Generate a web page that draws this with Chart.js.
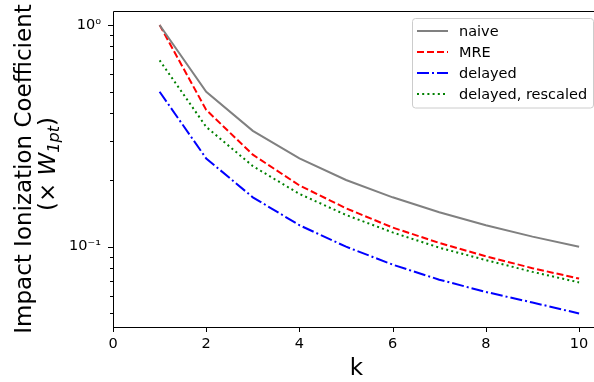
<!DOCTYPE html>
<html>
<head>
<meta charset="utf-8">
<script src="https://cdn.jsdelivr.net/npm/chart.js@4"></script>
<style>
  html, body { margin: 0; padding: 0; background: #fff; }
  canvas { display: block; }
</style>
</head>
<body>
<canvas id="chart" width="594" height="382"></canvas>
<script>
const kValues = [1, 2, 3, 4, 5, 6, 7, 8, 9, 10];
const naive = [1.0, 0.5, 0.333, 0.25, 0.2, 0.167, 0.143, 0.125, 0.111, 0.1];
const mre = [1.0, 0.414, 0.26, 0.189, 0.149, 0.122, 0.104, 0.0905, 0.08, 0.0718];
const delayed = [0.5, 0.25, 0.167, 0.125, 0.1, 0.083, 0.071, 0.0625, 0.056, 0.05];
const delayedRescaled = [0.693, 0.347, 0.231, 0.173, 0.139, 0.116, 0.099, 0.087, 0.077, 0.069];

const xTicks = [0, 2, 4, 6, 8, 10];
const yMajorTicks = [0.1, 1];
const yMinorTicks = [0.05, 0.06, 0.07, 0.08, 0.09, 0.2, 0.3, 0.4, 0.5, 0.6, 0.7, 0.8, 0.9];

const FONT = '"DejaVu Sans", sans-serif';

function toPoints(ys) {
    return kValues.map((k, i) => ({ x: k, y: ys[i] }));
}

function series(label, ys, color, dash) {
    return {
        label: label,
        data: toPoints(ys),
        borderColor: color,
        backgroundColor: color,
        borderWidth: 2,
        borderDash: dash,
        pointRadius: 0,
        tension: 0,
        fill: false
    };
}

// spines, tick marks, axis titles and legend drawn like matplotlib
const decorations = {
    id: 'decorations',
    afterDraw(chart) {
        const ctx = chart.ctx;
        const a = chart.chartArea;
        const xs = chart.scales.x, ys = chart.scales.y;
        ctx.save();
        ctx.strokeStyle = '#000';
        ctx.lineWidth = 1;
        ctx.beginPath();
        ctx.moveTo(a.left + 0.5, a.bottom + 0.5);
        ctx.lineTo(a.left + 0.5, a.top + 0.5);
        ctx.lineTo(a.right, a.top + 0.5);
        ctx.moveTo(a.left, a.bottom + 0.5);
        ctx.lineTo(a.right, a.bottom + 0.5);
        // x ticks
        xTicks.forEach(v => {
            const px = Math.round(xs.getPixelForValue(v)) + 0.5;
            ctx.moveTo(px, a.bottom);
            ctx.lineTo(px, a.bottom + 5);
        });
        // y ticks
        yMajorTicks.forEach(v => {
            const py = Math.round(ys.getPixelForValue(v)) + 0.5;
            ctx.moveTo(a.left, py);
            ctx.lineTo(a.left - 5, py);
        });
        yMinorTicks.forEach(v => {
            const py = Math.round(ys.getPixelForValue(v)) + 0.5;
            ctx.moveTo(a.left, py);
            ctx.lineTo(a.left - 3, py);
        });
        ctx.stroke();

        // axis titles
        ctx.fillStyle = '#000';
        ctx.font = '23px ' + FONT;
        ctx.textAlign = 'center';
        ctx.textBaseline = 'alphabetic';
        ctx.fillText('k', (a.left + 600) / 2, 375);

        const cy = (a.top + a.bottom) / 2;
        ctx.save();
        ctx.translate(31, cy);
        ctx.rotate(-Math.PI / 2);
        ctx.fillText('Impact Ionization Coefficient', 0, 0);
        ctx.restore();

        // second line: (× W_1pt)
        ctx.save();
        ctx.translate(55, cy - 5);
        ctx.rotate(-Math.PI / 2);
        ctx.textAlign = 'left';
        const p1 = '(× ', p2 = 'W', p3 = '1pt', p4 = ')';
        const big = '23px ' + FONT, bigIt = 'oblique 23px ' + FONT, small = 'oblique 16px ' + FONT;
        ctx.font = big; const w1 = ctx.measureText(p1).width;
        ctx.font = bigIt; const w2 = ctx.measureText(p2).width;
        ctx.font = small; const w3 = ctx.measureText(p3).width;
        ctx.font = big; const w4 = ctx.measureText(p4).width;
        let x = -(w1 + w2 + w3 + w4) / 2;
        ctx.font = big; ctx.fillText(p1, x, 0); x += w1;
        ctx.font = bigIt; ctx.fillText(p2, x, 0); x += w2;
        ctx.font = small; ctx.fillText(p3, x, 4); x += w3;
        ctx.font = big; ctx.fillText(p4, x, 0);
        ctx.restore();

        // legend
        const lx = 412.5, ly = 18.5, lw = 181, lh = 89.5, r = 3;
        ctx.beginPath();
        ctx.moveTo(lx + r, ly);
        ctx.arcTo(lx + lw, ly, lx + lw, ly + lh, r);
        ctx.arcTo(lx + lw, ly + lh, lx, ly + lh, r);
        ctx.arcTo(lx, ly + lh, lx, ly, r);
        ctx.arcTo(lx, ly, lx + lw, ly, r);
        ctx.closePath();
        ctx.fillStyle = 'rgba(255,255,255,0.8)';
        ctx.fill();
        ctx.strokeStyle = '#cccccc';
        ctx.lineWidth = 1;
        ctx.stroke();

        ctx.font = '14.5px ' + FONT;
        ctx.textAlign = 'left';
        ctx.textBaseline = 'middle';
        chart.data.datasets.forEach((ds, i) => {
            const rowY = 31 + i * 21;
            ctx.strokeStyle = ds.borderColor;
            ctx.lineWidth = ds.borderWidth;
            ctx.setLineDash(ds.borderDash || []);
            ctx.beginPath();
            ctx.moveTo(417, rowY);
            ctx.lineTo(448, rowY);
            ctx.stroke();
            ctx.setLineDash([]);
            ctx.fillStyle = '#000';
            ctx.fillText(ds.label, 459, rowY + 1);
        });
        ctx.restore();
    }
};

new Chart(document.getElementById('chart'), {
    type: 'line',
    data: {
        datasets: [
            series('naive', naive, '#808080', []),
            series('MRE', mre, '#ff0000', [7, 3]),
            series('delayed', delayed, '#0000ff', [12, 3, 2, 3]),
            series('delayed, rescaled', delayedRescaled, '#008000', [2, 3.2])
        ]
    },
    plugins: [decorations],
    options: {
        responsive: false,
        animation: false,
        devicePixelRatio: 1,
        layout: { padding: { top: 11, left: 0, right: 0, bottom: 0 } },
        plugins: {
            legend: { display: false },
            tooltip: { enabled: false }
        },
        scales: {
            x: {
                type: 'linear',
                min: 0,
                max: 10.32,
                afterBuildTicks: (axis) => { axis.ticks = xTicks.map(v => ({ value: v })); },
                afterFit: (axis) => {
                    axis.height = 55;
                    axis.paddingLeft = 0;
                    axis.paddingRight = 0;
                },
                grid: { display: false, drawTicks: false },
                border: { display: false },
                ticks: {
                    padding: 9,
                    maxRotation: 0,
                    autoSkip: false,
                    color: '#000',
                    font: { family: FONT, size: 14.5 }
                }
            },
            y: {
                type: 'logarithmic',
                min: 0.04343,
                max: 1.1565,
                afterBuildTicks: (axis) => {
                    axis.ticks = yMajorTicks.map(v => ({ value: v }));
                },
                afterFit: (axis) => {
                    axis.width = 113;
                    axis.paddingTop = 0;
                    axis.paddingBottom = 0;
                },
                grid: { display: false, drawTicks: false },
                border: { display: false },
                ticks: {
                    padding: 12,
                    autoSkip: false,
                    color: '#000',
                    font: { family: FONT, size: 14.5 },
                    callback: (v) => v === 1 ? '10⁰' : (v === 0.1 ? '10⁻¹' : '')
                }
            }
        }
    }
});
</script>
</body>
</html>
